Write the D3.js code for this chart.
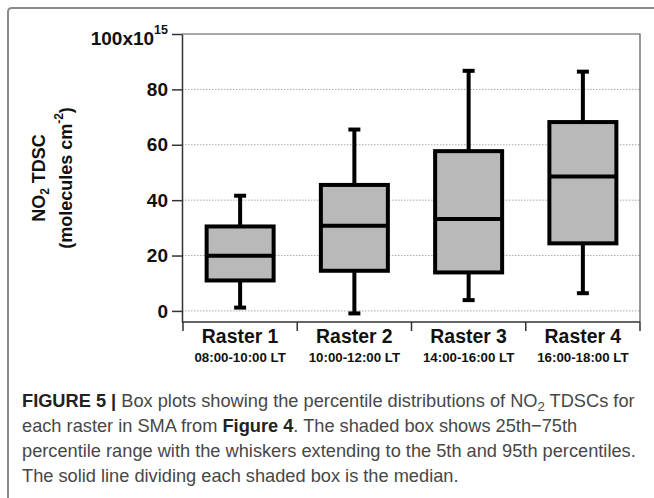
<!DOCTYPE html>
<html>
<head>
<meta charset="utf-8">
<script src="https://cdn.jsdelivr.net/npm/d3@7"></script>
<style>
  body { margin: 0; background: #fff; }
  svg { display: block; }
</style>
</head>
<body>
<div id="chart"></div>
<script>
// box plot values (x10^15 molecules cm-2)
var categories = ["Raster 1", "Raster 2", "Raster 3", "Raster 4"];
var timeLabels = ["08:00-10:00 LT", "10:00-12:00 LT", "14:00-16:00 LT", "16:00-18:00 LT"];
var p5 = [1.2, -0.9, 3.9, 6.4];
var p25 = [11, 14.5, 13.9, 24.4];
var median = [19.9, 30.8, 33.2, 48.5];
var p75 = [30.5, 45.5, 57.7, 68.2];
var p95 = [41.6, 65.5, 86.7, 86.4];
var yTicks = [0, 20, 40, 60, 80, 100];

var width = 654, height = 498;
var plot = {left: 182, right: 640, top: 34, bottom: 322};
var font = "'Liberation Sans', Arial, Helvetica, sans-serif";

var svg = d3.select("#chart").append("svg")
  .attr("width", width)
  .attr("height", height);

// outer frame (only top and left show in the crop)
svg.append("path")
  .attr("d", "M8," + height + " L8,12 Q8,8 12,8 L" + width + ",8")
  .attr("fill", "none")
  .attr("stroke", "#8a8a8a")
  .attr("stroke-width", 2);

var data = categories.map(function(c, i) {
  return {cat: c, time: timeLabels[i], p5: p5[i], p25: p25[i], med: median[i], p75: p75[i], p95: p95[i]};
});

var x = d3.scaleBand()
  .domain(categories)
  .range([plot.left + 1, plot.right])
  .paddingInner(0);

var y = d3.scaleLinear()
  .domain([-4, 100])
  .range([plot.bottom, plot.top]);

// dotted grid
svg.append("g")
  .selectAll("line")
  .data(yTicks.filter(function(d) { return d < 100; }))
  .enter().append("line")
    .attr("x1", plot.left)
    .attr("x2", plot.right)
    .attr("y1", function(d) { return y(d); })
    .attr("y2", function(d) { return y(d); })
    .attr("stroke", "#a8a8a8")
    .attr("stroke-width", 1)
    .attr("stroke-dasharray", "1.5,1.5");

// top and right frame of the plot
svg.append("path")
  .attr("d", "M" + plot.left + "," + plot.top + " H" + plot.right + " V" + plot.bottom)
  .attr("fill", "none")
  .attr("stroke", "#555")
  .attr("stroke-width", 1.2);

// y axis
var yAxis = svg.append("g")
  .attr("transform", "translate(" + plot.left + ",0)")
  .call(d3.axisLeft(y).tickValues(yTicks).tickSize(10).tickPadding(4).tickSizeOuter(0)
    .tickFormat(function(d) { return d == 100 ? "" : d; }));

yAxis.select(".domain").attr("stroke", "#333").attr("stroke-width", 1.5);
yAxis.selectAll(".tick line").attr("stroke", "#333").attr("stroke-width", 1.5);
yAxis.selectAll(".tick text")
  .attr("fill", "#111")
  .attr("font-family", font)
  .attr("font-weight", "bold")
  .attr("font-size", 19);

// top label 100x10^15
var topLabel = svg.append("text")
  .attr("x", plot.left - 14)
  .attr("y", y(100) + 11)
  .attr("text-anchor", "end")
  .attr("fill", "#111")
  .attr("font-family", font)
  .attr("font-weight", "bold")
  .attr("font-size", 19);
topLabel.append("tspan").text("100x10");
topLabel.append("tspan").attr("dy", -11).attr("font-size", 12.5).text("15");

// x axis line with ticks at band edges
var xg = svg.append("g");
xg.append("line")
  .attr("x1", plot.left)
  .attr("x2", plot.right)
  .attr("y1", plot.bottom)
  .attr("y2", plot.bottom)
  .attr("stroke", "#333")
  .attr("stroke-width", 1.5);

var edges = categories.map(function(c) { return x(c); }).concat([x.range()[1]]);
xg.selectAll(".edge")
  .data(edges)
  .enter().append("line")
    .attr("class", "edge")
    .attr("x1", function(d) { return d; })
    .attr("x2", function(d) { return d; })
    .attr("y1", plot.bottom)
    .attr("y2", plot.bottom + 9)
    .attr("stroke", "#333")
    .attr("stroke-width", 1.5);

xg.selectAll(".catlabel")
  .data(data)
  .enter().append("text")
    .attr("class", "catlabel")
    .attr("x", function(d) { return x(d.cat) + x.bandwidth() / 2; })
    .attr("y", 343)
    .attr("text-anchor", "middle")
    .attr("fill", "#111")
    .attr("font-family", font)
    .attr("font-weight", "bold")
    .attr("font-size", 19.4)
    .text(function(d) { return d.cat; });

xg.selectAll(".timelabel")
  .data(data)
  .enter().append("text")
    .attr("class", "timelabel")
    .attr("x", function(d) { return x(d.cat) + x.bandwidth() / 2; })
    .attr("y", 362)
    .attr("text-anchor", "middle")
    .attr("fill", "#111")
    .attr("font-family", font)
    .attr("font-weight", "bold")
    .attr("font-size", 13.3)
    .text(function(d) { return d.time; });

// boxes
var boxW = 67, capW = 12;
var boxes = svg.append("g").selectAll("g")
  .data(data)
  .enter().append("g")
    .attr("transform", function(d) { return "translate(" + (x(d.cat) + x.bandwidth() / 2) + ",0)"; });

boxes.append("line")
  .attr("y1", function(d) { return y(d.p95); })
  .attr("y2", function(d) { return y(d.p75); })
  .attr("stroke", "#000").attr("stroke-width", 4);
boxes.append("line")
  .attr("y1", function(d) { return y(d.p25); })
  .attr("y2", function(d) { return y(d.p5); })
  .attr("stroke", "#000").attr("stroke-width", 4);

// whisker caps
boxes.selectAll(".cap")
  .data(function(d) { return [d.p95, d.p5]; })
  .enter().append("line")
    .attr("class", "cap")
    .attr("x1", -capW / 2)
    .attr("x2", capW / 2)
    .attr("y1", function(v) { return y(v); })
    .attr("y2", function(v) { return y(v); })
    .attr("stroke", "#000").attr("stroke-width", 4);

boxes.append("rect")
  .attr("x", -boxW / 2)
  .attr("width", boxW)
  .attr("y", function(d) { return y(d.p75); })
  .attr("height", function(d) { return y(d.p25) - y(d.p75); })
  .attr("fill", "#b9b9b9")
  .attr("stroke", "#000")
  .attr("stroke-width", 4);

boxes.append("line")
  .attr("x1", -boxW / 2)
  .attr("x2", boxW / 2)
  .attr("y1", function(d) { return y(d.med); })
  .attr("y2", function(d) { return y(d.med); })
  .attr("stroke", "#000").attr("stroke-width", 4);

// y title, two lines
var cy = (plot.top + plot.bottom) / 2;
var t1 = svg.append("text")
  .attr("transform", "translate(45," + cy + ") rotate(-90)")
  .attr("text-anchor", "middle")
  .attr("fill", "#111")
  .attr("font-family", font)
  .attr("font-weight", "bold")
  .attr("font-size", 18);
t1.append("tspan").text("NO");
t1.append("tspan").attr("dy", 4).attr("font-size", 12).text("2");
t1.append("tspan").attr("dy", -4).text(" TDSC");

var t2 = svg.append("text")
  .attr("transform", "translate(72," + cy + ") rotate(-90)")
  .attr("text-anchor", "middle")
  .attr("fill", "#111")
  .attr("font-family", font)
  .attr("font-weight", "bold")
  .attr("font-size", 18);
t2.append("tspan").text("(molecules cm");
t2.append("tspan").attr("dy", -9).attr("font-size", 12).text("-2");
t2.append("tspan").attr("dy", 9).text(")");

// caption
var capLines = [
  [["FIGURE 5 | ", "b"], ["Box plots showing the percentile distributions of NO", ""], ["2", "sub"], [" TDSCs for", "up"]],
  [["each raster in SMA from ", ""], ["Figure 4", "b"], [". The shaded box shows 25th\u221275th", ""]],
  [["percentile range with the whiskers extending to the 5th and 95th percentiles.", ""]],
  [["The solid line dividing each shaded box is the median.", ""]]
];
var capBase = [407, 432, 457, 482];

var cap = svg.append("g")
  .attr("font-family", font)
  .attr("fill", "#474747")
  .attr("font-size", 16.5);

capLines.forEach(function(parts, i) {
  var t = cap.append("text").attr("x", 22).attr("y", capBase[i]);
  parts.forEach(function(p) {
    var s = t.append("tspan").text(p[0]);
    if (p[1] == "b") s.attr("font-weight", "bold").attr("fill", "#222");
    if (p[1] == "sub") s.attr("class", "sub").attr("font-size", 12).attr("dy", 4);
    if (p[1] == "up") s.attr("dy", -4);
  });
});

// fit caption font so first line ends where the original does
var first = cap.select("text").node();
var k = 613 / first.getComputedTextLength();
cap.attr("font-size", 16.5 * k);
cap.selectAll(".sub").attr("font-size", 12 * k);
</script>
</body>
</html>
